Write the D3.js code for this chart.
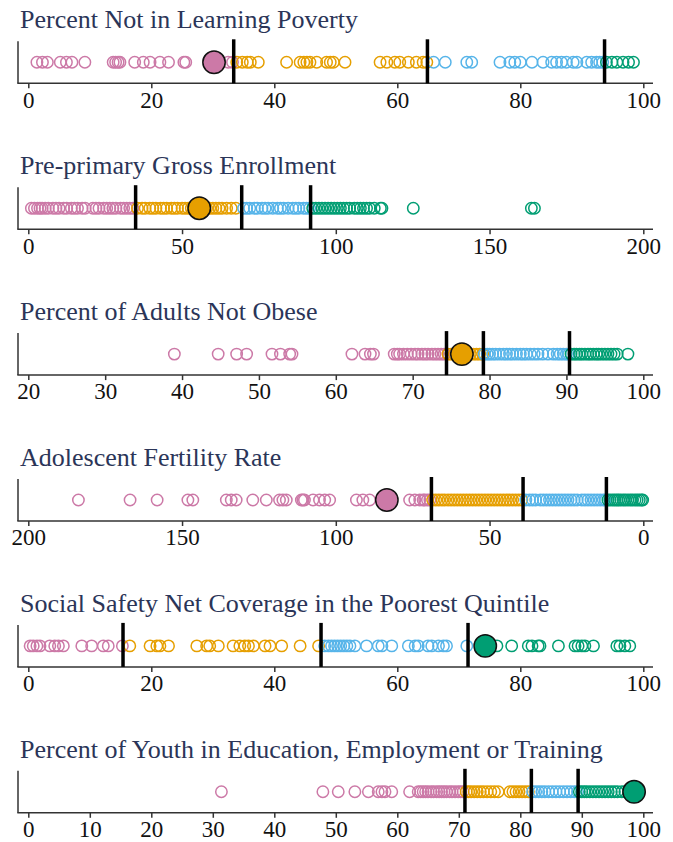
<!DOCTYPE html>
<html><head><meta charset="utf-8">
<script src="https://cdn.jsdelivr.net/npm/d3@7"></script>
<style>body{margin:0;background:#fff}svg{display:block}
text{font-family:"Liberation Serif","DejaVu Serif",serif}</style>
</head><body>
<script>
const titles = [
  "Percent Not in Learning Poverty",
  "Pre-primary Gross Enrollment",
  "Percent of Adults Not Obese",
  "Adolescent Fertility Rate",
  "Social Safety Net Coverage in the Poorest Quintile",
  "Percent of Youth in Education, Employment or Training"
];
const domains = [[0,100],[0,200],[20,100],[200,0],[0,100],[0,100]];
const tickValues = [
  [0,20,40,60,80,100],
  [0,50,100,150,200],
  [20,30,40,50,60,70,80,90,100],
  [200,150,100,50,0],
  [0,20,40,60,80,100],
  [0,10,20,30,40,50,60,70,80,90,100]
];
const thresholds = [
  [33.4,64.9,93.7],
  [34.9,69.4,91.8],
  [74.4,79.2,90.4],
  [68.9,39.1,12.0],
  [15.4,47.6,71.5],
  [71.0,81.8,89.4]
];
const highlight = [30.2, 55.6, 76.4, 83.4, 74.3, 98.5];

const vals1 = [1.4,2.3,3.1,5.2,6.2,7.1,9.2,13.8,14.2,14.6,14.9,17.3,18.7,19.8,21.4,22.8,25.3,25.6,32.5,33.2,
  33.9,34.8,35.6,36.1,37.4,42,44.2,44.8,45.3,45.8,46.9,48.5,49.1,49.6,51.5,57.2,58.3,59.6,60.4,61.8,63.1,64.2,64.8,
  65.9,67.8,71.3,72.1,76.7,78.3,79.1,80,81.9,83.7,85.1,85.9,86.7,87.5,88.6,89.2,90.8,91.6,92.4,92.9,93.4,
  94,94.9,95.7,96.7,97.6,98.4];
const vals2 = [1,2,3,3.8,4.5,5.5,6.5,8,9,10,11.5,12.5,14,15,16,17.5,18.5,21,22,23,24.5,25.5,26.5,27.5,28.5,30,31,32,33,34,
  35.5,37,38,39.5,40.5,41.5,43,44,45,46.5,47.5,48.5,50,51,52,53,58,59,60,61,62,63,64.5,66,67.5,
  70,71,72,73.5,74.5,76,77,78,79.5,81,82,83,84.5,86,87,88,89.5,90.5,91.5,
  92.5,93.5,94.5,95.5,96.5,97.5,98.5,99.5,100.5,101.5,102.5,103.5,104.5,106,107,108,109,110,111,112.5,114.5,115,125.2,163.6,164.6];
const vals3 = [39,44.7,47.1,48.4,51.7,52.8,54,54.3,62.1,63.8,64.5,64.9,67.6,68,68.3,68.8,69.3,69.8,70.3,70.7,71.2,71.6,72,72.5,72.9,73.3,73.7,74.1,
  74.6,75,75.4,75.8,76.2,76.7,77.1,77.5,77.9,78.3,78.7,79.1,
  79.3,79.7,80,80.4,80.8,81.3,81.8,82.2,82.6,83,83.5,84,84.4,84.8,85.3,85.8,86.3,86.9,87.6,88.3,88.8,89.2,89.6,90,90.3,
  90.6,91,91.3,91.7,92,92.4,92.8,93.1,93.5,93.9,94.2,94.6,95,95.4,95.8,96.2,96.6,98];
const vals4 = [183.7,166.9,158.1,148.1,146.5,135.6,134,132.4,127,122.6,118.3,117.2,116.1,111.2,110.7,110.2,107.4,105.3,103.6,102,93.3,91.2,89,
  76,74.3,72.7,71.6,71.1,70.2,69.4,
  68.5,67.5,66.5,65.5,64.6,63.5,62.5,61.5,60.5,59.5,58.5,57.5,56.5,55.5,54.5,53.5,52.5,51.5,50.5,49.5,48.5,47.5,46.5,45.5,44.5,43.5,42.5,41.5,40.5,39.5,
  38.2,37,36,35,33.5,32.5,31.5,30.5,29.5,28.5,27.5,26.5,25.5,24.5,23.5,22.5,21.5,20,19,18,17,16,15,14,13,12.3,
  11.5,10.8,10,9.3,8.6,8,7.3,6.5,5.8,5,4.2,3.5,2.7,2,1.3,0.6,0.2];
const vals5 = [0.3,0.8,1.4,1.9,3.5,4.3,4.9,5.7,8.7,10.3,12.2,13,15.3,
  16.5,19.8,20.9,21.4,22.8,27.4,29,29.5,30.9,33.3,34.4,35.2,35.8,36.6,38.5,39.3,41.2,44.2,47.2,
  48.2,48.8,49.3,49.8,50.3,50.8,51.3,51.8,52.3,53.1,55,56.9,57.5,59.1,61.8,62.9,63.4,65,65.6,66.7,67.5,68,71.3,
  76.2,78.6,81.3,81.9,82.9,83.2,86.2,88.9,89.4,90,90.5,91.9,95.7,96.2,97,97.8];
const vals6 = [31.4,47.9,50.4,53.1,55.3,56.9,57.5,58,59.1,62,63.4,63.8,64.2,64.6,65,65.5,65.9,66.4,66.8,67.2,67.6,68,68.5,68.9,69.4,69.9,70.3,70.7,
  71.2,71.6,72,72.5,73,73.5,74,74.6,75.2,75.8,76.4,78.3,78.8,79.3,79.8,80.3,80.8,81.3,
  82,82.5,83,83.5,84,84.6,85.2,85.8,86.4,87,87.6,88.2,88.8,89.3,
  89.6,90,90.4,90.8,91.3,91.8,92.3,92.8,93.3,93.8,94.3,94.8,95.3,95.8,96.5,97];
const seriesVals = [vals1, vals2, vals3, vals4, vals5, vals6];
const colors = ["#cc79a7","#e69f00","#56b4e9","#009e73"];

const W = 673, H = 842;
const svg = d3.select("body").append("svg").attr("width", W).attr("height", H);
const FONT = '"Liberation Serif","DejaVu Serif",serif';

function bin(v, th, rev) {
  let b = 0;
  th.forEach(t => { if (rev ? v < t : v >= t) b++; });
  return b;
}

titles.forEach((title, i) => {
  const axisY = 83.3 + i * 145.9;
  const g = svg.append("g");
  const x = d3.scaleLinear().domain(domains[i]).range([28.3, 643.3]);
  const rev = domains[i][0] > domains[i][1];

  g.append("text").attr("x", 20).attr("y", axisY - 55)
    .style("font-family", FONT).style("font-size", "26px").attr("fill", "#2b3558")
    .text(title);

  g.append("line").attr("x1", 18).attr("x2", 18).attr("y1", axisY - 42).attr("y2", axisY)
    .attr("stroke", "#333").attr("stroke-width", 1.5);
  g.append("line").attr("x1", 17.3).attr("x2", 653).attr("y1", axisY).attr("y2", axisY)
    .attr("stroke", "#333").attr("stroke-width", 1.5);

  const ax = g.append("g").attr("transform", `translate(0,${axisY})`)
    .call(d3.axisBottom(x).tickValues(tickValues[i]).tickSize(5).tickPadding(3).tickFormat(d3.format("d")));
  ax.attr("font-family", null).attr("font-size", null);
  ax.select(".domain").remove();
  ax.selectAll(".tick line").attr("stroke", "#333").attr("stroke-width", 1.5);
  ax.selectAll(".tick text").style("font-family", FONT).style("font-size", "23px").attr("fill", "#111");

  const cy = axisY - 21;
  g.selectAll("circle.pt").data(seriesVals[i]).join("circle")
    .attr("class", "pt")
    .attr("cx", d => x(d)).attr("cy", cy).attr("r", 5.7)
    .attr("fill", "none")
    .attr("stroke", d => colors[bin(d, thresholds[i], rev)])
    .attr("stroke-width", 1.5);

  g.selectAll("line.th").data(thresholds[i]).join("line")
    .attr("class", "th")
    .attr("x1", d => x(d)).attr("x2", d => x(d))
    .attr("y1", axisY - 44).attr("y2", axisY)
    .attr("stroke", "#000").attr("stroke-width", 3.5);

  const h = highlight[i];
  g.append("circle").attr("cx", x(h)).attr("cy", cy).attr("r", 11.2)
    .attr("fill", colors[bin(h, thresholds[i], rev)])
    .attr("stroke", "#111").attr("stroke-width", 1.5);
});
</script>
</body></html>
